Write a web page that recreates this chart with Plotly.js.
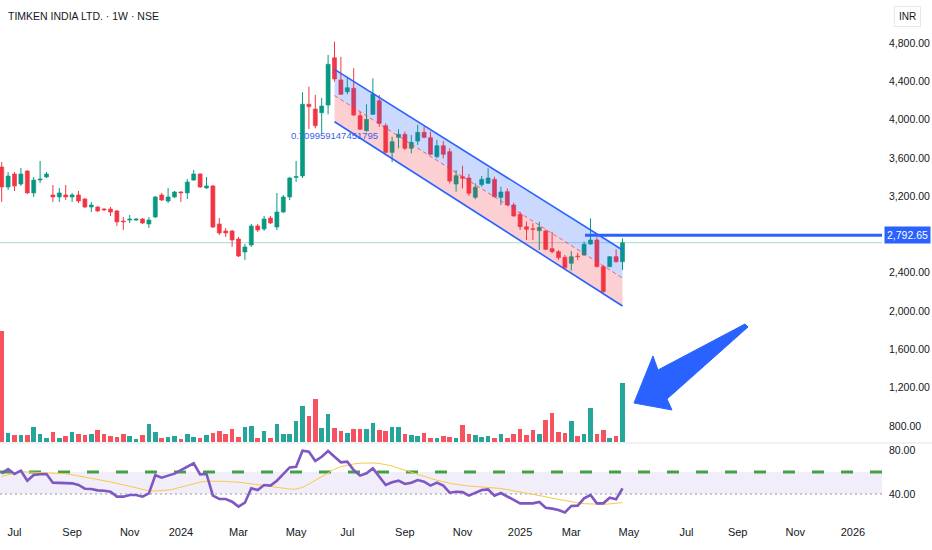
<!DOCTYPE html>
<html><head><meta charset="utf-8">
<script src="https://cdn.plot.ly/plotly-3.0.1.min.js"></script>
<style>html,body{margin:0;padding:0;background:#fff}#chart{width:932px;height:550px}</style>
</head><body><div id="chart"></div>
<script>
// ---------- DATA ----------
const firstWeek = '2023-06-19';   // weekly bars (Mondays)
const open = [3505,3296,3432,3327,3463,3234,3369,3401,3213,3192,
  3213,3192,3213,3171,3087,3087,3066,3066,3046,2941,
  2951,2951,2962,2910,2983,3213,3150,3192,3244,3234,
  3369,3432,3286,3307,2910,2837,2837,2753,2617,2690,
  2889,2858,2972,2878,3035,3192,3396,3411,4160,4111,
  4072,4152,4646,4414,4291,4327,4041,3884,4055,4197,
  3936,3658,3815,3846,3700,3776,3867,3811,3613,3727,
  3665,3327,3404,3390,3188,3320,3335,3376,3188,3247,
  3108,3011,2881,2860,2840,2837,2652,2620,2562,2499,
  2575,2586,2701,2743,2464,2464,2568,2516];
const close = [3296,3411,3307,3432,3234,3369,3380,3432,3192,3234,
  3192,3213,3150,3087,3108,3046,3056,3035,2931,2931,
  2962,2962,2920,2951,3192,3160,3192,3244,3234,3348,
  3432,3296,3307,2878,2816,2816,2743,2575,2670,2889,
  2847,2962,2920,3035,3192,3390,3406,4160,4135,3936,
  4142,4578,4424,4264,4333,4048,3899,4003,4267,3961,
  3658,3769,3846,3700,3763,3867,3815,3638,3727,3638,
  3359,3414,3387,3230,3293,3376,3390,3195,3244,3108,
  2993,2881,2854,2854,2875,2645,2620,2558,2453,2568,
  2568,2698,2743,2464,2203,2568,2516,2714];
const high = [3557,3453,3453,3495,3474,3401,3568,3453,3317,3286,
  3317,3234,3254,3181,3139,3098,3077,3087,3056,2983,
  3004,2972,2972,2983,3202,3234,3286,3254,3254,3380,
  3474,3440,3401,3317,2972,2868,2847,2774,2701,2910,
  2910,2993,2993,3234,3213,3401,3568,4285,4344,4257,
  4226,4675,4814,4657,4448,4536,4083,4160,4431,4257,
  3961,3821,3899,3874,3839,3944,3926,3874,3787,3776,
  3700,3474,3519,3432,3335,3411,3491,3404,3299,3282,
  3132,3038,2934,2917,2934,2854,2829,2638,2586,2628,
  2610,2725,2969,2771,2481,2575,2645,2760];
const low = [3140,3265,3254,3307,3223,3192,3338,3390,3140,3140,
  3160,3140,3129,3077,3035,3035,3046,2993,2889,2847,
  2920,2941,2910,2868,2972,3150,3129,3181,3140,3171,
  3359,3286,3275,2868,2795,2774,2670,2565,2534,2670,
  2826,2837,2910,2847,3025,3160,3348,3390,3900,3909,
  3860,4055,4396,4257,4264,4038,3891,3874,4048,3926,
  3648,3554,3700,3683,3648,3735,3805,3630,3596,3596,
  3335,3247,3282,3202,3168,3299,3327,3188,3108,3098,
  2986,2847,2743,2743,2638,2638,2604,2534,2447,2422,
  2534,2575,2690,2458,2192,2458,2506,2429];
const volume = [555,47,34,34,34,75,38,22,50,22,
  30,50,38,35,38,58,38,30,25,42,
  30,14,35,88,50,18,27,30,14,42,
  25,18,35,47,55,38,63,27,75,78,
  18,55,18,88,38,42,105,180,130,213,
  72,142,72,55,47,63,63,63,93,58,
  55,75,75,38,35,30,43,22,18,30,
  27,22,83,38,34,27,30,18,38,18,
  42,63,34,58,38,110,143,50,47,105,
  30,38,168,42,58,18,30,297];
const rsi = [58.8,62.7,58.2,61.2,52.1,57.3,57.9,58.2,50.3,50.3,
  50.0,49.7,48.2,44.8,44.5,43.3,43.0,42.1,37.6,37.6,
  39.1,39.1,37.6,40.6,57.0,54.8,56.7,58.5,61.8,64.8,
  67.9,57.9,58.2,38.5,35.5,35.5,33.0,28.5,32.1,45.2,
  43.6,48.2,47.6,52.1,58.2,64.2,64.8,79.4,78.5,70.0,
  73.9,79.1,73.9,68.8,69.4,61.8,56.7,58.8,63.3,55.8,
  48.2,50.6,52.1,49.1,50.3,52.7,51.2,47.6,50.3,47.6,
  41.2,42.1,41.8,38.5,41.2,43.6,44.2,38.5,40.9,37.6,
  34.5,31.5,31.5,31.5,32.7,27.5,26.7,25.5,23.3,29.1,
  29.4,36.0,39.1,31.5,31.5,36.6,35.2,45.2];
const rsiMA = [56,57.5,59,60.2,60,59.7,59.4,59.2,59,58.8,
  58.4,57.5,56.5,55.5,54.5,53.3,52.2,51,49.7,48.3,
  46.8,45.3,44,42.9,42.7,43,43.6,44.7,46.3,48,
  49.6,50.8,51.6,51.8,51.6,51.4,51.2,50.7,50,49.2,
  48.4,47.6,46.8,46,45.2,44.5,44.5,46,49,52.5,
  56,59.5,62.5,64.8,66.3,67.3,68,68.3,68.2,67.8,
  66.8,65.5,63.5,61.5,59.5,57.5,55.8,54.2,52.5,51,
  49.8,48.8,47.8,47.2,46.8,46.3,46,45.7,45,44,
  43,42,41,40,38.8,37.5,36.2,35,33.8,32.8,
  32,31.2,30.8,30.6,30.6,31,31.5,32.2];
const channelX = ['2024-06-17','2025-04-28'];
const channelUpper = [4525, 2638];
const channelLower = [3978, 2053];
const levelPrice = 2792.65;
const levelStart = '2025-03-18';
const fibText = '0.709959147451795';
const fibX = '2024-06-17', fibY = 3818;
const monthTicks = ['2023-07-03','2023-09-04','2023-11-06','2024-01-01','2024-03-04','2024-05-06',
  '2024-07-01','2024-09-02','2024-11-04','2025-01-06','2025-03-03','2025-05-05',
  '2025-07-07','2025-09-01','2025-11-03','2026-01-05'];
const monthLabels = ['Jul','Sep','Nov','2024','Mar','May','Jul','Sep','Nov','2025','Mar','May','Jul','Sep','Nov','2026'];
const priceTicks = [800,1200,1600,2000,2400,3200,3600,4000,4400,4800];
const rsiTicks = [40,80];
const rsiUpper = 60, rsiLower = 40;
const titleText = 'TIMKEN INDIA LTD. · 1W · NSE';
const currencyText = 'INR';

// ---------- LAYOUT CONSTANTS ----------
const W = 932, H = 550, ML = 0, MR = 50, MT = 0, MB = 28;
const PW = W - ML - MR, PH = H - MT - MB;
const rsiFrac = 79 / PH;
const FONT = "'Liberation Sans',Arial,sans-serif";
const UP = '#089981', DN = '#f23645';
const VUP = '#26a69a', VDN = '#f7525f';
const BLUE = '#2962ff';
const DAY = 864e5;

// dates
const dates = [];
{ let t = Date.parse(firstWeek + 'T00:00:00Z');
  for (let i = 0; i < open.length; i++) { dates.push(new Date(t + i*7*DAY).toISOString().slice(0,10)); } }

const isUp = open.map((o,i) => close[i] >= o);
function pick(arr, up) { return arr.filter((_,i) => isUp[i] === up); }

function wicks(up) {
  const x = [], y = [];
  dates.forEach((d,i) => { if (isUp[i] === up) { x.push(d,d,null); y.push(low[i],high[i],null); } });
  return {type:'scatter', mode:'lines', x, y, xaxis:'x', yaxis:'y',
    line:{color: up?UP:DN, width:1}, hoverinfo:'skip', showlegend:false};
}
function bodies(up) {
  const o = pick(open, up), c = pick(close, up);
  return {type:'bar', x: pick(dates, up), base: o, y: c.map((v,i)=>v-o[i]),
    width: 4.4*DAY, xaxis:'x', yaxis:'y',
    marker:{color: up?UP:DN, line:{color: up?UP:DN, width:0.6}}, hoverinfo:'skip', showlegend:false};
}
function vols(up) {
  return {type:'bar', x: pick(dates, up), y: pick(volume, up), width: 5.0*DAY,
    xaxis:'x', yaxis:'y2', marker:{color: up?VUP:VDN, line:{width:0}}, hoverinfo:'skip', showlegend:false};
}
const chMid = channelUpper.map((u,i) => (u + channelLower[i]) / 2);

const traces = [
  {type:'scatter', mode:'lines', x:[channelX[0],channelX[1],channelX[1],channelX[0]],
   y:[channelUpper[0],channelUpper[1],chMid[1],chMid[0]], fill:'toself',
   fillcolor:'rgba(41,98,255,0.24)', line:{width:0}, xaxis:'x', yaxis:'y', hoverinfo:'skip', showlegend:false},
  {type:'scatter', mode:'lines', x:[channelX[0],channelX[1],channelX[1],channelX[0]],
   y:[chMid[0],chMid[1],channelLower[1],channelLower[0]], fill:'toself',
   fillcolor:'rgba(242,54,69,0.24)', line:{width:0}, xaxis:'x', yaxis:'y', hoverinfo:'skip', showlegend:false},
  {type:'scatter', mode:'text', x:[fibX], y:[fibY], text:[fibText], xaxis:'x', yaxis:'y',
   textfont:{family:FONT, size:9.5, color:'#3d5ee8'}, textposition:'middle center', hoverinfo:'skip', showlegend:false},
  wicks(true), wicks(false), bodies(true), bodies(false),
  vols(true), vols(false),
  {type:'scatter', mode:'lines', x:dates, y:rsiMA, xaxis:'x', yaxis:'y3',
   line:{color:'#f7c948', width:1}, hoverinfo:'skip', showlegend:false},
  {type:'scatter', mode:'lines', x:dates, y:rsi, xaxis:'x', yaxis:'y3',
   line:{color:'#7e57c2', width:2.6}, hoverinfo:'skip', showlegend:false}
];

// pixel -> paper helpers for drawings
const px = v => (v - ML) / PW;
const py = v => 1 - (v - MT) / PH;
const arrowPts = [[745,324],[658,370],[653,356],[634,403],[672,410],[667,399],[748,327]];
const arrowPath = 'M ' + arrowPts.map(p => px(p[0]).toFixed(5) + ',' + py(p[1]).toFixed(5)).join(' L ') + ' Z';

const xRange = ['2023-06-17 03:20', '2026-02-05 20:00'];
const TICKFONT = {family:FONT, size:10.5, color:'#131722'};

const layout = {
  width: W, height: H, margin:{l:ML, r:MR, t:MT, b:MB, pad:0},
  paper_bgcolor:'#ffffff', plot_bgcolor:'rgba(0,0,0,0)',
  showlegend:false, barmode:'overlay', bargap:0,
  font:{family:FONT, size:11, color:'#131722'},
  xaxis:{type:'date', range:xRange, anchor:'y3', tickmode:'array', tickvals:monthTicks, ticktext:monthLabels,
    showgrid:false, zeroline:false, showline:false, ticks:'', ticklabelstandoff:2, tickfont:{family:FONT, size:11, color:'#131722'},
    automargin:false, fixedrange:true},
  yaxis:{domain:[rsiFrac,1], range:[622.4,5249.1], side:'right', anchor:'x', tickmode:'array', tickvals:priceTicks,
    tickformat:',.2f', showgrid:false, zeroline:false, showline:false, ticks:'', ticklabelstandoff:6,
    tickfont:TICKFONT, automargin:false, fixedrange:true},
  yaxis2:{overlaying:'y', range:[-5,2210], showticklabels:false, showgrid:false, zeroline:false, showline:false,
    ticks:'', fixedrange:true},
  yaxis3:{domain:[0,rsiFrac], range:[14.55,86.36], side:'right', anchor:'x', tickmode:'array', tickvals:rsiTicks,
    tickformat:'.2f', showgrid:false, zeroline:false, showline:false, ticks:'', ticklabelstandoff:6,
    tickfont:TICKFONT, automargin:false, fixedrange:true},
  shapes:[
    {type:'rect', xref:'paper', yref:'y3', x0:0, x1:1, y0:rsiLower, y1:rsiUpper,
     fillcolor:'rgba(126,87,194,0.1)', line:{width:0}, layer:'below'},
    {type:'line', xref:'paper', yref:'y3', x0:0, x1:1, y0:rsiUpper, y1:rsiUpper,
     line:{color:'#43a047', width:3, dash:'12px,17px'}, layer:'below'},
    {type:'line', xref:'paper', yref:'y3', x0:0, x1:1, y0:rsiLower, y1:rsiLower,
     line:{color:'#9598a1', width:1, dash:'2px,3px'}, layer:'below'},
    {type:'line', xref:'paper', yref:'paper', x0:0, x1:W/PW, y0:rsiFrac, y1:rsiFrac,
     line:{color:'#e0e3eb', width:1}},
    {type:'line', xref:'paper', yref:'y', x0:0, x1:1, y0:close[close.length-1], y1:close[close.length-1],
     line:{color:'#a6dbd4', width:1}, layer:'below'},
    {type:'line', xref:'x', yref:'y', x0:channelX[0], x1:channelX[1], y0:chMid[0], y1:chMid[1],
     line:{color:'rgba(242,54,69,0.75)', width:1, dash:'4px,3px'}},
    {type:'line', xref:'x', yref:'y', x0:channelX[0], x1:channelX[1], y0:channelUpper[0], y1:channelUpper[1],
     line:{color:BLUE, width:1.6}},
    {type:'line', xref:'x', yref:'y', x0:channelX[0], x1:channelX[1], y0:channelLower[0], y1:channelLower[1],
     line:{color:BLUE, width:1.6}},
    {type:'line', xref:'x', yref:'y', x0:levelStart, x1:xRange[1], y0:levelPrice, y1:levelPrice,
     line:{color:BLUE, width:3}},
    {type:'path', xref:'paper', yref:'paper', path:arrowPath, fillcolor:BLUE, line:{color:BLUE, width:1}}
  ],
  annotations:[
    {xref:'paper', yref:'paper', x:px(6), y:py(16), xanchor:'left', yanchor:'middle', showarrow:false,
     text:titleText, font:{family:FONT, size:10.5, color:'#131722'}},
    {xref:'paper', yref:'paper', x:px(907), y:py(16), xanchor:'center', yanchor:'middle', showarrow:false,
     text:currencyText, font:{family:FONT, size:10, color:'#131722'}, bgcolor:'#ffffff',
     bordercolor:'#e6e8ee', borderwidth:1, borderpad:4},
    {xref:'paper', yref:'y', x:px(884), y:levelPrice, xanchor:'left', yanchor:'middle', showarrow:false,
     text:levelPrice.toLocaleString('en-US',{minimumFractionDigits:2}), font:{family:FONT, size:10.5, color:'#ffffff'},
     bgcolor:BLUE, borderpad:2}
  ]
};

Plotly.newPlot('chart', traces, layout, {displayModeBar:false, staticPlot:true});
</script>
</body></html>
